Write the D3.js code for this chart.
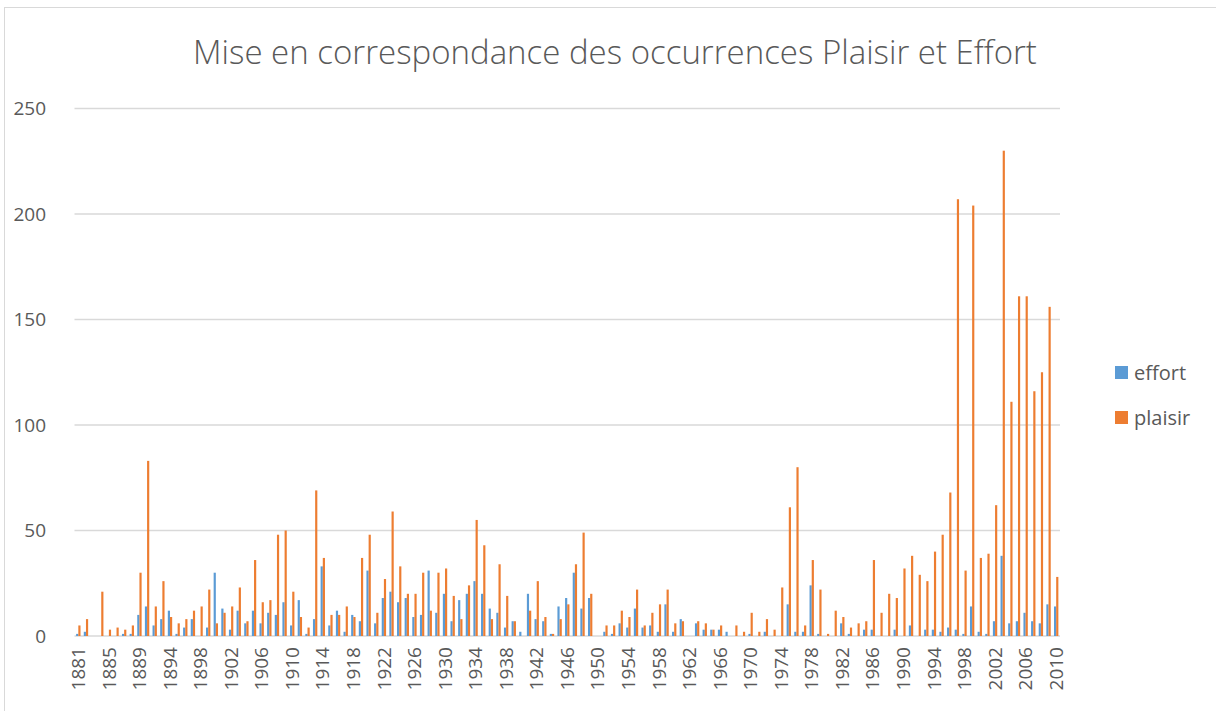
<!DOCTYPE html>
<html>
<head>
<meta charset="utf-8">
<script src="https://cdn.jsdelivr.net/npm/d3@7"></script>
<style>
  body { margin: 0; background: #fff; }
  text { font-family: "Open Sans", "Liberation Sans", sans-serif; fill: #595959; }
</style>
</head>
<body>
<script>
// years on the category axis (1893 is absent from the source table)
const years = [1881, 1882, 1883, 1884, 1885, 1886, 1887, 1888, 1889, 1890, 1891, 1892,
  1894, 1895, 1896, 1897, 1898, 1899, 1900, 1901, 1902, 1903, 1904, 1905, 1906, 1907,
  1908, 1909, 1910, 1911, 1912, 1913, 1914, 1915, 1916, 1917, 1918, 1919, 1920, 1921,
  1922, 1923, 1924, 1925, 1926, 1927, 1928, 1929, 1930, 1931, 1932, 1933, 1934, 1935,
  1936, 1937, 1938, 1939, 1940, 1941, 1942, 1943, 1944, 1945, 1946, 1947, 1948, 1949,
  1950, 1951, 1952, 1953, 1954, 1955, 1956, 1957, 1958, 1959, 1960, 1961, 1962, 1963,
  1964, 1965, 1966, 1967, 1968, 1969, 1970, 1971, 1972, 1973, 1974, 1975, 1976, 1977,
  1978, 1979, 1980, 1981, 1982, 1983, 1984, 1985, 1986, 1987, 1988, 1989, 1990, 1991,
  1992, 1993, 1994, 1995, 1996, 1997, 1998, 1999, 2000, 2001, 2002, 2003, 2004, 2005,
  2006, 2007, 2008, 2009, 2010];

const effort = [1, 2, 0, 0, 0, 0, 1, 1, 10, 14, 5, 8,
  12, 1, 4, 8, 0, 4, 30, 13, 3, 12, 6, 12, 6, 11,
  10, 16, 5, 17, 1, 8, 33, 5, 12, 2, 10, 7, 31, 6,
  18, 21, 16, 18, 9, 10, 31, 11, 20, 7, 17, 20, 26, 20,
  13, 11, 4, 7, 2, 20, 8, 7, 1, 14, 18, 30, 13, 18,
  0, 2, 1, 6, 4, 13, 4, 5, 2, 15, 2, 8, 0, 6,
  3, 3, 3, 2, 0, 0, 1, 0, 2, 0, 0, 15, 2, 2,
  24, 1, 0, 0, 6, 1, 0, 3, 3, 0, 0, 3, 0, 5,
  0, 3, 3, 2, 4, 3, 1, 14, 2, 1, 7, 38, 6, 7,
  11, 7, 6, 15, 14];

const plaisir = [5, 8, 0, 21, 3, 4, 3, 5, 30, 83, 14, 26,
  9, 6, 8, 12, 14, 22, 6, 11, 14, 23, 7, 36, 16, 17,
  48, 50, 21, 9, 4, 69, 37, 10, 10, 14, 9, 37, 48, 11,
  27, 59, 33, 20, 20, 30, 12, 30, 32, 19, 8, 24, 55, 43,
  8, 34, 19, 7, 0, 12, 26, 9, 1, 8, 15, 34, 49, 20,
  0, 5, 5, 12, 9, 22, 5, 11, 15, 22, 6, 7, 0, 7,
  6, 3, 5, 0, 5, 2, 11, 2, 8, 3, 23, 61, 80, 5,
  36, 22, 1, 12, 9, 4, 6, 7, 36, 11, 20, 18, 32, 38,
  29, 26, 40, 48, 68, 207, 31, 204, 37, 39, 62, 230, 111, 161,
  161, 116, 125, 156, 28];

const seriesNames = ["effort", "plaisir"];
const yTicks = [0, 50, 100, 150, 200, 250];

const width = 1216, height = 711;
const colors = { effort: "#5B9BD5", plaisir: "#ED7D31" };
const plot = { left: 74.5, right: 1060, top: 108.5, bottom: 636 };

const rows = years.map((y, i) => ({ year: y, effort: effort[i], plaisir: plaisir[i] }));

const svg = d3.select("body").append("svg")
  .attr("width", width)
  .attr("height", height);

// chart frame (runs past the picture edges)
svg.append("rect")
  .attr("x", 4.5).attr("y", 7.5)
  .attr("width", 1400).attr("height", 900)
  .attr("fill", "none")
  .attr("stroke", "#d9d9d9");

svg.append("text")
  .attr("x", 615).attr("y", 64)
  .attr("text-anchor", "middle")
  .style("font-size", "33px")
  .style("font-weight", 300)
  .text("Mise en correspondance des occurrences Plaisir et Effort");

const x0 = d3.scaleBand()
  .domain(years)
  .range([plot.left, plot.right])
  .paddingInner(0.4286)
  .paddingOuter(0.2143);

const x1 = d3.scaleBand()
  .domain(seriesNames)
  .range([0, x0.bandwidth()]);

const y = d3.scaleLinear()
  .domain([0, 250])
  .range([plot.bottom, plot.top]);

// gridlines + y labels
svg.append("g")
  .selectAll("line")
  .data(yTicks)
  .join("line")
  .attr("x1", plot.left).attr("x2", plot.right)
  .attr("y1", d => y(d)).attr("y2", d => y(d))
  .attr("stroke", "#d9d9d9")
  .attr("stroke-width", 1.5);

svg.append("g")
  .selectAll("text")
  .data(yTicks)
  .join("text")
  .attr("x", 46)
  .attr("y", d => y(d))
  .attr("dy", "0.35em")
  .attr("text-anchor", "end")
  .style("font-size", "19px")
  .text(d => d);

// bars
const groups = svg.append("g")
  .selectAll("g")
  .data(rows)
  .join("g")
  .attr("transform", d => `translate(${x0(d.year)},0)`);

groups.selectAll("rect")
  .data(d => seriesNames.map(k => ({ key: k, value: d[k] })))
  .join("rect")
  .attr("x", d => x1(d.key))
  .attr("y", d => y(d.value))
  .attr("width", x1.bandwidth())
  .attr("height", d => y(0) - y(d.value))
  .attr("fill", d => colors[d.key]);

// x labels, every 4th category, rotated
svg.append("g")
  .selectAll("text")
  .data(years.filter((d, i) => i % 4 === 0))
  .join("text")
  .attr("transform", d => `translate(${x0(d) + x0.bandwidth() / 2},647) rotate(-90)`)
  .attr("text-anchor", "end")
  .attr("dy", "0.35em")
  .style("font-size", "19px")
  .text(d => d);

// legend
const legend = svg.append("g")
  .selectAll("g")
  .data(seriesNames)
  .join("g")
  .attr("transform", (d, i) => `translate(1115, ${366 + i * 45})`);

legend.append("rect")
  .attr("width", 13).attr("height", 13)
  .attr("fill", d => colors[d]);

legend.append("text")
  .attr("x", 19).attr("y", 7)
  .attr("dy", "0.35em")
  .style("font-size", "20px")
  .text(d => d);
</script>
</body>
</html>
